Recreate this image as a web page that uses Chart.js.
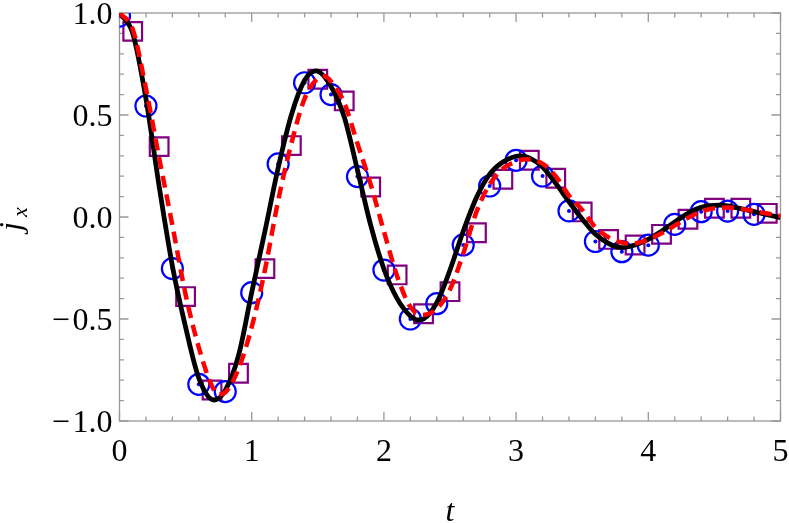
<!DOCTYPE html>
<html><head><meta charset="utf-8">
<script src="https://cdn.jsdelivr.net/npm/chart.js@4.4.1/dist/chart.umd.min.js"></script>
<style>html,body{margin:0;padding:0;background:#fff;} canvas{display:block;}</style>
</head><body>
<canvas id="c" width="789" height="523"></canvas>
<script>
// ---- data ----
const blackT = [0,0.1,0.2,0.3,0.4,0.5,0.6,0.715,0.8,0.9,1.0,1.1,1.2,1.3,1.4,1.486,1.6,1.7,1.8,1.9,2.0,2.1,2.2,2.26,2.3,2.4,2.5,2.6,2.7,2.8,2.9,3.03,3.1,3.2,3.3,3.4,3.5,3.6,3.7,3.8,3.9,4.0,4.1,4.2,4.3,4.4,4.54,4.6,4.7,4.8,4.9,5.0];
const blackY = [1.0,0.90,0.58,0.15,-0.24,-0.54,-0.79,-0.897,-0.85,-0.68,-0.37,-0.07,0.24,0.50,0.67,0.716,0.64,0.49,0.23,-0.04,-0.255,-0.40,-0.485,-0.505,-0.50,-0.42,-0.26,-0.07,0.095,0.21,0.27,0.30,0.29,0.245,0.165,0.075,-0.01,-0.085,-0.13,-0.15,-0.137,-0.11,-0.07,-0.025,0.018,0.047,0.058,0.054,0.041,0.026,0.011,-0.003];

const redT = [0,0.1,0.2,0.3,0.4,0.5,0.6,0.7,0.75,0.8,0.9,1.0,1.1,1.2,1.3,1.4,1.5,1.55,1.6,1.7,1.8,1.9,2.0,2.1,2.2,2.29,2.4,2.5,2.6,2.7,2.8,2.9,3.0,3.08,3.2,3.3,3.4,3.5,3.6,3.7,3.8,3.87,4.0,4.1,4.2,4.3,4.4,4.5,4.6,4.7,4.8,4.9,5.0];
const redY = [1.0,0.92,0.63,0.29,-0.04,-0.38,-0.64,-0.83,-0.87,-0.86,-0.745,-0.54,-0.26,0.08,0.36,0.58,0.68,0.69,0.665,0.56,0.36,0.16,-0.07,-0.29,-0.44,-0.48,-0.45,-0.355,-0.18,0.025,0.16,0.237,0.272,0.283,0.262,0.20,0.105,0.035,-0.05,-0.10,-0.125,-0.131,-0.11,-0.08,-0.042,-0.004,0.027,0.043,0.046,0.039,0.029,0.017,0.005];

const circT = [0,0.2,0.4,0.6,0.8,1.0,1.2,1.4,1.6,1.8,2.0,2.2,2.4,2.6,2.8,3.0,3.2,3.4,3.6,3.8,4.0,4.2,4.4,4.6,4.8];
const circY = [0.985,0.544,-0.253,-0.82,-0.856,-0.371,0.26,0.658,0.60,0.198,-0.26,-0.50,-0.425,-0.137,0.152,0.278,0.201,0.03,-0.12,-0.17,-0.138,-0.036,0.026,0.029,0.013];

const sqT = [0.1,0.3,0.5,0.7,0.9,1.1,1.3,1.5,1.7,1.9,2.1,2.3,2.5,2.7,2.9,3.1,3.3,3.5,3.7,3.9,4.1,4.3,4.5,4.7,4.9];
const sqY = [0.91,0.345,-0.39,-0.848,-0.766,-0.253,0.35,0.675,0.569,0.147,-0.284,-0.474,-0.366,-0.077,0.185,0.278,0.19,0.025,-0.11,-0.137,-0.085,-0.011,0.043,0.043,0.018];

const xTickVals = [0,1,2,3,4,5];
const xTickLabels = ['0','1','2','3','4','5'];
const yTickVals = [-1,-0.5,0,0.5,1];
const yTickLabels = ['\u2212\u200A1.0','\u2212\u200A0.5','0.0','0.5','1.0'];
const xTitle = 't';
const yTitleMain = 'j';
const yTitleSub = 'x';

const SERIF = '"Liberation Serif", "Times New Roman", "DejaVu Serif", serif';
const pts = (T, Y) => T.map((t, i) => ({x: t, y: Y[i]}));

const frameTicks = {
  id: 'frameTicks',
  beforeDatasetsDraw(chart) {
    const {ctx, chartArea: a, scales: {x, y}} = chart;
    ctx.save();
    ctx.strokeStyle = '#999999';
    ctx.lineWidth = 1.3;
    ctx.strokeRect(a.left, a.top, a.right - a.left, a.bottom - a.top);
    ctx.beginPath();
    for (let k = 0; k <= 25; k++) {
      const v = k * 0.2;
      const L = (k % 5 === 0) ? 9 : 4.5;
      const px = x.getPixelForValue(v);
      ctx.moveTo(px, a.bottom); ctx.lineTo(px, a.bottom - L);
      ctx.moveTo(px, a.top); ctx.lineTo(px, a.top + L);
    }
    for (let k = 0; k <= 20; k++) {
      const v = -1 + k * 0.1;
      const L = (k % 5 === 0) ? 9 : 4.5;
      const py = y.getPixelForValue(v);
      ctx.moveTo(a.left, py); ctx.lineTo(a.left + L, py);
      ctx.moveTo(a.right, py); ctx.lineTo(a.right - L, py);
    }
    ctx.stroke();
    ctx.restore();
  },
  afterDraw(chart) {
    const {ctx, chartArea: a} = chart;
    ctx.save();
    ctx.fillStyle = '#000';
    ctx.textBaseline = 'alphabetic';
    ctx.textAlign = 'center';
    ctx.font = 'italic 32px ' + SERIF;
    ctx.fillText(xTitle, (a.left + a.right) / 2, 521);
    ctx.rotate(-Math.PI / 2);
    ctx.textAlign = 'left';
    ctx.font = 'italic 32px ' + SERIF;
    ctx.fillText(yTitleMain, -231, 21);
    ctx.font = 'italic 22px ' + SERIF;
    ctx.fillText(yTitleSub, -217, 27);
    ctx.restore();
  }
};

new Chart(document.getElementById('c'), {
  type: 'scatter',
  data: {
    datasets: [
      { label: 'red', data: pts(redT, redY), showLine: true, borderColor: '#ff0000', borderWidth: 4.5,
        borderDash: [12, 7], pointRadius: 0, cubicInterpolationMode: 'monotone', order: 0, fill: false },
      { label: 'black', data: pts(blackT, blackY), showLine: true, borderColor: '#000000', borderWidth: 4.8,
        pointRadius: 0, cubicInterpolationMode: 'monotone', order: 1, fill: false },
      { label: 'dots', data: pts(circT, circY), showLine: false, pointRadius: 2, pointBorderWidth: 0,
        pointBackgroundColor: '#0000ff', pointBorderColor: '#0000ff', order: 2 },
      { label: 'circles', data: pts(circT, circY), showLine: false, pointStyle: 'circle', pointRadius: 10.5,
        pointBorderWidth: 2.2, pointBorderColor: '#0000ff', pointBackgroundColor: 'rgba(0,0,0,0)', order: 3 },
      { label: 'squares', data: pts(sqT, sqY), showLine: false, pointStyle: 'rect', pointRadius: 13.2,
        pointBorderWidth: 2.2, pointBorderColor: '#800080', pointBackgroundColor: 'rgba(0,0,0,0)', order: 4 }
    ]
  },
  options: {
    responsive: false, animation: false, devicePixelRatio: 1,
    layout: { autoPadding: false, padding: { left: 0, right: 8.5, top: 13, bottom: 0 } },
    plugins: { legend: { display: false }, tooltip: { enabled: false } },
    scales: {
      x: {
        type: 'linear', min: 0, max: 5,
        grid: { display: false, drawTicks: false }, border: { display: false },
        afterBuildTicks: s => { s.ticks = xTickVals.map(v => ({ value: v })); },
        ticks: { font: { family: SERIF, size: 32 }, color: '#000', padding: 12, maxRotation: 0,
                 callback: (v, i) => xTickLabels[i] },
        afterFit: s => { s.height = 102; s.paddingLeft = 0; s.paddingRight = 0; }
      },
      y: {
        type: 'linear', min: -1, max: 1,
        grid: { display: false, drawTicks: false }, border: { display: false },
        afterBuildTicks: s => { s.ticks = yTickVals.map(v => ({ value: v })); },
        ticks: { font: { family: SERIF, size: 32 }, color: '#000', padding: 7, labelOffset: 3,
                 callback: (v, i) => yTickLabels[i] },
        afterFit: s => { s.width = 119.5; s.paddingTop = 0; s.paddingBottom = 0; }
      }
    }
  },
  plugins: [frameTicks]
});
</script></body></html>
